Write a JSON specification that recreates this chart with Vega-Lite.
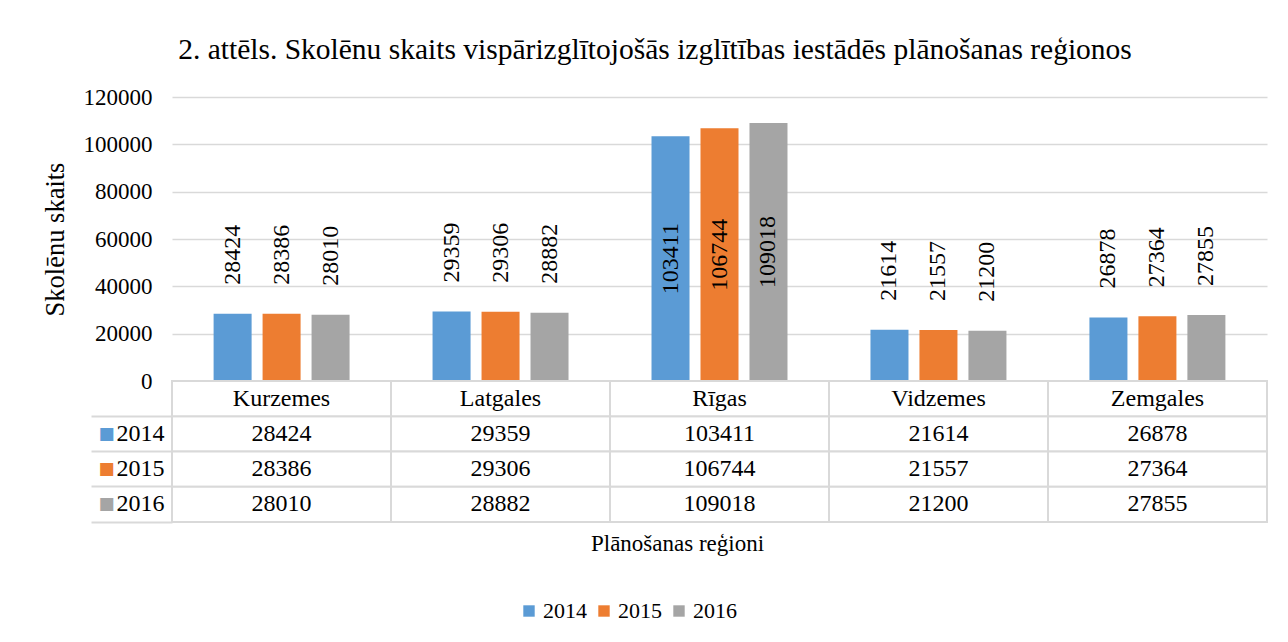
{
  "$schema": "https://vega.github.io/schema/vega-lite/v6.json",
  "padding": {"left": 42, "top": 34, "right": 10, "bottom": 10},
  "background": "white",
  "title": {
    "text": "2. attēls. Skolēnu skaits vispārizglītojošās izglītības iestādēs plānošanas reģionos",
    "font": "Liberation Serif",
    "fontSize": 29.5,
    "fontWeight": "normal",
    "color": "#000000",
    "anchor": "middle",
    "offset": 21
  },
  "datasets": {
    "data": [
      {"region": "Kurzemes", "year": "2014", "value": 28424},
      {"region": "Kurzemes", "year": "2015", "value": 28386},
      {"region": "Kurzemes", "year": "2016", "value": 28010},
      {"region": "Latgales", "year": "2014", "value": 29359},
      {"region": "Latgales", "year": "2015", "value": 29306},
      {"region": "Latgales", "year": "2016", "value": 28882},
      {"region": "Rīgas", "year": "2014", "value": 103411},
      {"region": "Rīgas", "year": "2015", "value": 106744},
      {"region": "Rīgas", "year": "2016", "value": 109018},
      {"region": "Vidzemes", "year": "2014", "value": 21614},
      {"region": "Vidzemes", "year": "2015", "value": 21557},
      {"region": "Vidzemes", "year": "2016", "value": 21200},
      {"region": "Zemgales", "year": "2014", "value": 26878},
      {"region": "Zemgales", "year": "2015", "value": 27364},
      {"region": "Zemgales", "year": "2016", "value": 27855}
    ]
  },
  "spacing": 0,
  "bounds": "flush",
  "vconcat": [
    {
      "width": 1095,
      "height": 284,
      "data": {"name": "data"},
      "encoding": {
        "x": {
          "field": "region",
          "type": "nominal",
          "scale": {"domain": ["Kurzemes", "Latgales", "Rīgas", "Vidzemes", "Zemgales"], "paddingInner": 0.379, "paddingOuter": 0.19},
          "axis": null
        },
        "xOffset": {
          "field": "year",
          "type": "nominal",
          "scale": {"domain": ["2014", "2015", "2016"], "paddingInner": 0.224, "paddingOuter": 0}
        }
      },
      "layer": [
        {
          "mark": {"type": "bar"},
          "encoding": {
            "y": {
              "field": "value",
              "type": "quantitative",
              "scale": {"domain": [0, 120000]},
              "axis": {
                "values": [0, 20000, 40000, 60000, 80000, 100000, 120000],
                "format": "d",
                "title": "Skolēnu skaits",
                "titleFont": "Liberation Serif",
                "titleFontSize": 26.5,
                "titleFontWeight": "normal",
                "titleColor": "#000000",
                "titlePadding": 14,
                "labelFont": "Liberation Serif",
                "labelFontSize": 23,
                "labelColor": "#000000",
                "labelPadding": 20,
                "ticks": false,
                "domain": false,
                "grid": true,
                "gridColor": "#d9d9d9",
                "gridWidth": 1.5
              }
            },
            "color": {
              "field": "year",
              "type": "nominal",
              "scale": {"domain": ["2014", "2015", "2016"], "range": ["#5b9bd5", "#ed7d31", "#a5a5a5"]},
              "legend": {
                "orient": "none",
                "legendX": 346,
                "legendY": 503,
                "direction": "horizontal",
                "title": null,
                "symbolType": "square",
                "symbolSize": 130,
                "symbolStrokeWidth": 0,
                "labelFont": "Liberation Serif",
                "labelFontSize": 22,
                "labelColor": "#000000",
                "labelOffset": 3,
                "columnPadding": 6
              }
            }
          }
        },
        {
          "transform": [{"filter": "datum.region != 'Rīgas'"}],
          "mark": {"type": "text", "angle": 270, "align": "left", "baseline": "middle", "dx": 29, "font": "Liberation Serif", "fontSize": 24, "color": "#000000"},
          "encoding": {
            "y": {"field": "value", "type": "quantitative", "scale": {"domain": [0, 120000]}, "axis": null},
            "text": {"field": "value", "type": "quantitative", "format": "d"}
          }
        },
        {
          "transform": [{"filter": "datum.region == 'Rīgas'"}],
          "mark": {"type": "text", "angle": 270, "align": "center", "baseline": "middle", "font": "Liberation Serif", "fontSize": 24, "color": "#000000"},
          "encoding": {
            "y": {"field": "value", "type": "quantitative", "scale": {"domain": [0, 240000]}, "axis": null},
            "text": {"field": "value", "type": "quantitative", "format": "d"}
          }
        }
      ],
      "resolve": {"scale": {"y": "independent"}}
    },
    {
      "width": 1095,
      "height": 141,
      "data": {"name": "data"},
      "encoding": {
        "x": {
          "field": "region",
          "type": "nominal",
          "scale": {"domain": ["Kurzemes", "Latgales", "Rīgas", "Vidzemes", "Zemgales"], "paddingInner": 0, "paddingOuter": 0},
          "axis": {
            "orient": "bottom",
            "labels": false,
            "ticks": false,
            "domain": false,
            "title": "Plānošanas reģioni",
            "titleFont": "Liberation Serif",
            "titleFontSize": 23,
            "titleFontWeight": "normal",
            "titleColor": "#000000",
            "titlePadding": 10,
            "titleX": 505
          }
        }
      },
      "layer": [
        {
          "mark": {"type": "rect", "fill": "white", "stroke": "#d9d9d9", "strokeWidth": 2},
          "encoding": {
            "y": {
              "field": "year",
              "type": "nominal",
              "scale": {"domain": ["hdr", "2014", "2015", "2016"], "paddingInner": 0, "paddingOuter": 0},
              "axis": {
                "orient": "left",
                "title": null,
                "labelExpr": "datum.value == 'hdr' ? '' : datum.value",
                "labelFont": "Liberation Serif",
                "labelFontSize": 24,
                "labelColor": "#000000",
                "labelPadding": -73,
                "bandPosition": 1,
                "tickExtra": false,
                "ticks": true,
                "tickSize": 81,
                "tickWidth": 2,
                "tickColor": "#d9d9d9",
                "domain": false,
                "grid": false
              }
            }
          }
        },
        {
          "mark": {"type": "text", "font": "Liberation Serif", "fontSize": 24, "color": "#000000", "baseline": "middle"},
          "encoding": {
            "y": {
              "field": "year",
              "type": "nominal",
              "axis": {
                "orient": "left",
                "offset": 0,
                "title": null,
                "labelExpr": "datum.value == 'hdr' ? '' : '■'",
                "labelFont": "DejaVu Sans",
                "labelFontSize": 17,
                "labelColor": {"condition": [{"test": "datum.value == '2014'", "value": "#5b9bd5"}, {"test": "datum.value == '2015'", "value": "#ed7d31"}], "value": "#a5a5a5"},
                "labelPadding": 58,
                "ticks": false,
                "domain": false,
                "grid": false
              }
            },
            "text": {"field": "value", "type": "quantitative", "format": "d"}
          }
        },
        {
          "transform": [{"filter": "datum.year == '2014'"}],
          "mark": {"type": "rect", "fill": "white", "stroke": "#d9d9d9", "strokeWidth": 2},
          "encoding": {
            "y": {"datum": "hdr", "type": "nominal", "axis": null}
          }
        },
        {
          "transform": [{"filter": "datum.year == '2014'"}],
          "mark": {"type": "text", "font": "Liberation Serif", "fontSize": 24, "color": "#000000", "baseline": "middle"},
          "encoding": {
            "y": {"datum": "hdr", "type": "nominal", "axis": null},
            "text": {"field": "region", "type": "nominal"}
          }
        }
      ],
      "resolve": {"axis": {"y": "independent"}}
    }
  ],
  "config": {
    "view": {"stroke": null},
    "font": "Liberation Serif"
  }
}
